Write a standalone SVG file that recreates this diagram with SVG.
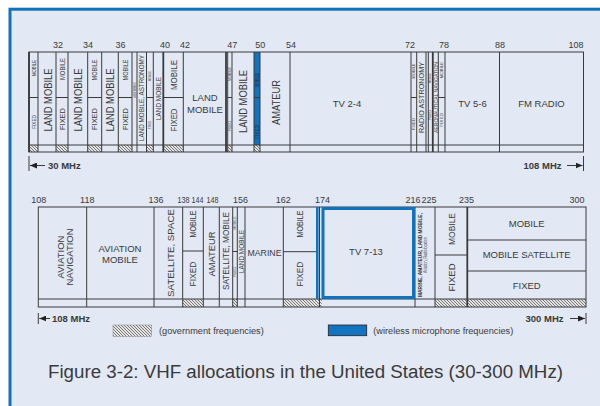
<svg xmlns="http://www.w3.org/2000/svg" width="600" height="406" viewBox="0 0 600 406">
<defs>
<style>
.ln{stroke:#3a3a3a;stroke-width:1;fill:none}
.tk{stroke:#3a3a3a;stroke-width:1.8;fill:none}
.t{font-family:"Liberation Sans",Arial,Helvetica,sans-serif;fill:#3a3a3a}
.v{text-anchor:middle;dominant-baseline:central}
.c{text-anchor:middle}
.n{font-size:9px;text-anchor:middle}
.b{font-weight:bold;font-size:9.5px}
.h{fill:url(#hatch)}
.blue{fill:#1172BE}
</style>
<pattern id="hatch" width="3" height="3" patternUnits="userSpaceOnUse">
<rect width="3" height="3" fill="#e6e6e6"/>
<path d="M-1,-1 L4,4 M-1,2 L1,4 M2,-1 L4,1" stroke="#444" stroke-width="0.7"/>
</pattern>
<marker id="arr" markerUnits="userSpaceOnUse" markerWidth="7" markerHeight="6" refX="7" refY="3" orient="auto">
<path d="M0,0 L7,3 L0,6 z" fill="#222"/>
</marker>
</defs>
<rect width="600" height="406" fill="#fff"/>
<rect x="10" y="9.2" width="620" height="430" fill="#E2E8F4" stroke="#1172BA" stroke-width="3"/>

<!-- TOP BAND 30-108 MHz -->
<g id="band-top">
<g id="top-hatch">
<rect class="h" x="29" y="145" width="9" height="7"/>
<rect class="h" x="56" y="145" width="12" height="7"/>
<rect class="h" x="87.7" y="145" width="14" height="7"/>
<rect class="h" x="118.3" y="145" width="13.7" height="7"/>
<rect class="h" x="146.5" y="145" width="6.8" height="7"/>
<rect class="h" x="163.3" y="145" width="20" height="7"/>
<rect class="h" x="227.7" y="145" width="4.3" height="7"/>
<rect class="h" x="254" y="145" width="6" height="7"/>
</g>
<rect class="blue" x="254" y="52" width="6" height="93"/>
<g id="top-lines">
<rect class="ln" x="29" y="52" width="554.5" height="100"/>
<line class="ln" x1="29" y1="145" x2="583.5" y2="145"/>
<path class="ln" d="M38,52V152 M56,52V152 M68,52V152 M87.7,52V152 M101.7,52V152 M118.3,52V152 M132,52V152 M137,52V152 M146.5,52V152 M153.3,52V152 M183.3,52V152 M227.7,52V152 M232,52V152 M254,52V152 M260,52V152 M290,52V152 M411,52V152 M416.7,52V152 M426,52V152 M428.3,52V152 M438.3,52V152 M445,52V152 M499.5,52V152"/>
<path class="tk" d="M29,52V152 M163.3,52V152 M226,52V152 M432.8,52V152"/>
<path class="ln" d="M29,97.5H38 M56,97.5H68 M87.7,97.5H101.7 M118.3,97.5H132 M146.5,97.5H153.3 M163.3,97.5H183.3 M227.7,97.5H232 M254,97.5H260 M411,97.5H416.7 M438.3,97.5H445"/>
</g>
<g id="top-freq" class="t">
<text class="n" x="58" y="48">32</text>
<text class="n" x="88" y="48">34</text>
<text class="n" x="120.5" y="48">36</text>
<text class="n" x="165" y="48">40</text>
<text class="n" x="185" y="48">42</text>
<text class="n" x="232.3" y="48">47</text>
<text class="n" x="260.3" y="48">50</text>
<text class="n" x="291" y="48">54</text>
<text class="n" x="410" y="48">72</text>
<text class="n" x="444" y="48">78</text>
<text class="n" x="500" y="48">88</text>
<text class="n" x="576" y="48">108</text>
</g>
<g id="top-labels" class="t">
<text class="v" transform="translate(33.5 68) rotate(-90)" font-size="5.5" textLength="16" lengthAdjust="spacingAndGlyphs">MOBILE</text>
<text class="v" transform="translate(33.5 122) rotate(-90)" font-size="5.5" textLength="14" lengthAdjust="spacingAndGlyphs">FIXED</text>
<text class="v" transform="translate(47.5 100) rotate(-90)" font-size="10.5" textLength="63" lengthAdjust="spacingAndGlyphs">LAND MOBILE</text>
<text class="v" transform="translate(62 69) rotate(-90)" font-size="7.5" textLength="22" lengthAdjust="spacingAndGlyphs">MOBILE</text>
<text class="v" transform="translate(62 119) rotate(-90)" font-size="7.5" textLength="22" lengthAdjust="spacingAndGlyphs">FIXED</text>
<text class="v" transform="translate(77.5 100) rotate(-90)" font-size="10.5" textLength="63" lengthAdjust="spacingAndGlyphs">LAND MOBILE</text>
<text class="v" transform="translate(94.7 70) rotate(-90)" font-size="7.5" textLength="21" lengthAdjust="spacingAndGlyphs">MOBILE</text>
<text class="v" transform="translate(94.7 119) rotate(-90)" font-size="7.5" textLength="22" lengthAdjust="spacingAndGlyphs">FIXED</text>
<text class="v" transform="translate(110 100) rotate(-90)" font-size="10.5" textLength="63" lengthAdjust="spacingAndGlyphs">LAND MOBILE</text>
<text class="v" transform="translate(125.2 70) rotate(-90)" font-size="7.5" textLength="21" lengthAdjust="spacingAndGlyphs">MOBILE</text>
<text class="v" transform="translate(125.2 119) rotate(-90)" font-size="7.5" textLength="22" lengthAdjust="spacingAndGlyphs">FIXED</text>
<text class="v" transform="translate(134.5 90) rotate(-90)" font-size="3.5" textLength="16" lengthAdjust="spacingAndGlyphs">LAND MOBILE</text>
<text class="v" transform="translate(141.8 98) rotate(-90)" font-size="6.5" textLength="86" lengthAdjust="spacingAndGlyphs">LAND MOBILE, ASTRONOMY</text>
<text class="v" transform="translate(150 76) rotate(-90)" font-size="3.5" textLength="10" lengthAdjust="spacingAndGlyphs">MOBILE</text>
<text class="v" transform="translate(150 125) rotate(-90)" font-size="3.5" textLength="8" lengthAdjust="spacingAndGlyphs">FIXED</text>
<text class="v" transform="translate(158.3 98.5) rotate(-90)" font-size="6.8" textLength="43" lengthAdjust="spacingAndGlyphs">LAND MOBILE</text>
<text class="v" transform="translate(173.3 75) rotate(-90)" font-size="9.5" textLength="30" lengthAdjust="spacingAndGlyphs">MOBILE</text>
<text class="v" transform="translate(173.3 120) rotate(-90)" font-size="9.5" textLength="23" lengthAdjust="spacingAndGlyphs">FIXED</text>
<text class="c" x="205" y="100.5" font-size="9.5">LAND</text>
<text class="c" x="205" y="112.5" font-size="9.5">MOBILE</text>
<text class="v" transform="translate(230 74) rotate(-90)" font-size="3.5" textLength="14" lengthAdjust="spacingAndGlyphs">MOBILE</text>
<text class="v" transform="translate(230 126) rotate(-90)" font-size="3.5" textLength="10" lengthAdjust="spacingAndGlyphs">FIXED</text>
<text class="v" transform="translate(243.3 101.5) rotate(-90)" font-size="10.5" textLength="63" lengthAdjust="spacingAndGlyphs">LAND MOBILE</text>
<text class="v" transform="translate(257 80) rotate(-90)" font-size="4.5" textLength="14" lengthAdjust="spacingAndGlyphs" fill="#1a2a40">MOBILE</text>
<text class="v" transform="translate(257 132) rotate(-90)" font-size="4.5" textLength="14" lengthAdjust="spacingAndGlyphs" fill="#1a2a40">FIXED</text>
<text class="v" transform="translate(276 102.5) rotate(-90)" font-size="10" textLength="45" lengthAdjust="spacingAndGlyphs">AMATEUR</text>
<text class="c" x="347" y="106.5" font-size="9.5">TV 2-4</text>
<text class="v" transform="translate(413.8 71) rotate(-90)" font-size="3.5" textLength="15" lengthAdjust="spacingAndGlyphs">MOBILE</text>
<text class="v" transform="translate(413.8 124) rotate(-90)" font-size="3.5" textLength="12" lengthAdjust="spacingAndGlyphs">FIXED</text>
<text class="v" transform="translate(421.4 97.5) rotate(-90)" font-size="7" textLength="71" lengthAdjust="spacingAndGlyphs">RADIO ASTRONOMY</text>
<text class="v" transform="translate(430.3 78) rotate(-90)" font-size="3" textLength="10" lengthAdjust="spacingAndGlyphs">MOBILE</text>
<text class="v" transform="translate(430.3 115) rotate(-90)" font-size="3" textLength="10" lengthAdjust="spacingAndGlyphs">FIXED</text>
<text class="v" transform="translate(435.9 97.5) rotate(-90)" font-size="5" textLength="71" lengthAdjust="spacingAndGlyphs">AERONAUTICAL NAVIGATION</text>
<text class="v" transform="translate(441.7 70) rotate(-90)" font-size="3.5" textLength="16" lengthAdjust="spacingAndGlyphs">MOBILE</text>
<text class="v" transform="translate(441.7 120) rotate(-90)" font-size="3.5" textLength="14" lengthAdjust="spacingAndGlyphs">FIXED</text>
<text class="c" x="472.5" y="106.5" font-size="9.5">TV 5-6</text>
<text class="c" x="541.5" y="106.5" font-size="9.5">FM RADIO</text>
</g>
<g id="top-range" class="t">
<path class="ln" d="M29,156V171 M583.5,156V171"/>
<line class="ln" x1="45" y1="165.5" x2="30" y2="165.5" marker-end="url(#arr)"/>
<text class="b" x="48" y="169">30 MHz</text>
<line class="ln" x1="567" y1="165.5" x2="582.5" y2="165.5" marker-end="url(#arr)"/>
<text class="b" x="561.5" y="169" text-anchor="end">108 MHz</text>
</g>
</g>

<!-- BOTTOM BAND 108-300 MHz -->
<g id="band-bottom">
<g id="bot-hatch">
<rect class="h" x="182.7" y="299" width="20.6" height="8"/>
<rect class="h" x="232.7" y="299" width="4.6" height="8"/>
<rect class="h" x="283.3" y="299" width="38.4" height="8"/>
<rect class="h" x="435" y="299" width="151" height="8"/>
</g>
<g id="bot-lines">
<rect class="ln" x="38.3" y="207" width="547.7" height="100"/>
<line class="ln" x1="38.3" y1="299" x2="586" y2="299"/>
<path class="ln" d="M86.7,207V307 M154,207V307 M182.7,207V307 M203.3,207V307 M219.3,207V307 M232.7,207V307 M237.3,207V307 M245,207V307 M283.3,207V307 M319.5,207V307 M415,207V307 M435,207V307"/>
<path class="tk" d="M467.3,207V307"/>
<path class="ln" d="M182.7,251H203.3 M232.7,251.5H237.3 M283.3,251.7H316 M435,255H467.3 M467.3,240H586 M467.3,271H586"/>
</g>
<rect class="blue" x="316" y="207" width="2.6" height="92"/>
<g id="tv-7-13">
<rect x="323" y="208.5" width="90.5" height="89" fill="none" stroke="#1172BE" stroke-width="3"/>
</g>
<g id="bot-freq" class="t">
<text class="n" x="38.8" y="202.5">108</text>
<text class="n" x="87.3" y="202.5">118</text>
<text class="n" x="156" y="202.5">136</text>
<text class="n" x="183.5" y="202.5" font-size="8.5" textLength="12" lengthAdjust="spacingAndGlyphs">138</text>
<text class="n" x="197.5" y="202.5" font-size="8.5" textLength="12" lengthAdjust="spacingAndGlyphs">144</text>
<text class="n" x="212.5" y="202.5" font-size="8.5" textLength="12" lengthAdjust="spacingAndGlyphs">148</text>
<text class="n" x="240.5" y="202.5">156</text>
<text class="n" x="283.3" y="202.5">162</text>
<text class="n" x="322.5" y="202.5">174</text>
<text class="n" x="413" y="202.5">216</text>
<text class="n" x="429" y="202.5">225</text>
<text class="n" x="466.5" y="202.5">235</text>
<text class="n" x="577" y="202.5">300</text>
</g>
<g id="bot-labels" class="t">
<text class="v" transform="translate(60 257) rotate(-90)" font-size="9.5">AVIATION</text>
<text class="v" transform="translate(69 257) rotate(-90)" font-size="9.5">NAVIGATION</text>
<text class="c" x="120" y="251.7" font-size="9.5">AVIATION</text>
<text class="c" x="120" y="263.3" font-size="9.5">MOBILE</text>
<text class="v" transform="translate(170 253) rotate(-90)" font-size="9.5" textLength="88" lengthAdjust="spacingAndGlyphs">SATELLITE, SPACE</text>
<text class="v" transform="translate(193 224) rotate(-90)" font-size="9" textLength="27" lengthAdjust="spacingAndGlyphs">MOBILE</text>
<text class="v" transform="translate(193 274) rotate(-90)" font-size="9" textLength="25" lengthAdjust="spacingAndGlyphs">FIXED</text>
<text class="v" transform="translate(211.5 254) rotate(-90)" font-size="9" textLength="45" lengthAdjust="spacingAndGlyphs">AMATEUR</text>
<text class="v" transform="translate(226 251) rotate(-90)" font-size="8.5" textLength="78" lengthAdjust="spacingAndGlyphs">SATELLITE, MOBILE</text>
<text class="v" transform="translate(235 223) rotate(-90)" font-size="3.5" textLength="13" lengthAdjust="spacingAndGlyphs">MOBILE</text>
<text class="v" transform="translate(235 272) rotate(-90)" font-size="3.5" textLength="10" lengthAdjust="spacingAndGlyphs">FIXED</text>
<text class="v" transform="translate(241.3 251.5) rotate(-90)" font-size="6.5" textLength="43" lengthAdjust="spacingAndGlyphs">LAND MOBILE</text>
<text class="c" x="264.5" y="256" font-size="9" textLength="34" lengthAdjust="spacingAndGlyphs">MARINE</text>
<text class="v" transform="translate(300 224) rotate(-90)" font-size="9" textLength="27" lengthAdjust="spacingAndGlyphs">MOBILE</text>
<text class="v" transform="translate(300 274) rotate(-90)" font-size="9" textLength="25" lengthAdjust="spacingAndGlyphs">FIXED</text>
<text class="c" x="366" y="255" font-size="9.5">TV 7-13</text>
<text class="v" transform="translate(420.5 255) rotate(-90)" font-size="4.5" font-weight="bold" textLength="84" lengthAdjust="spacingAndGlyphs">MARINE, AMATEUR, LAND MOBILE,</text>
<text class="v" transform="translate(425 255) rotate(-90)" font-size="4.5" textLength="36" lengthAdjust="spacingAndGlyphs">Aviation, Radiolocation</text>
<text class="v" transform="translate(451.2 229) rotate(-90)" font-size="9.5" textLength="32" lengthAdjust="spacingAndGlyphs">MOBILE</text>
<text class="v" transform="translate(451.2 277.5) rotate(-90)" font-size="9.5" textLength="28" lengthAdjust="spacingAndGlyphs">FIXED</text>
<text class="c" x="526.7" y="226.5" font-size="9.5">MOBILE</text>
<text class="c" x="526.7" y="257.7" font-size="9.5">MOBILE SATELLITE</text>
<text class="c" x="526.7" y="289" font-size="9.5">FIXED</text>
</g>
<g id="bot-range" class="t">
<path class="ln" d="M38.3,313V324 M586,313V324"/>
<line class="ln" x1="50" y1="318.5" x2="39.3" y2="318.5" marker-end="url(#arr)"/>
<text class="b" x="52" y="322">108 MHz</text>
<line class="ln" x1="570" y1="318.5" x2="585" y2="318.5" marker-end="url(#arr)"/>
<text class="b" x="563.5" y="322" text-anchor="end">300 MHz</text>
</g>
</g>

<g id="legend" class="t">
<rect class="h" x="113" y="325" width="38.7" height="11.5" stroke="#888" stroke-width="0.5"/>
<text x="159" y="333.5" font-size="9.2">(government frequencies)</text>
<rect x="328.3" y="325" width="38.4" height="10.7" fill="#1273C0" stroke="#222" stroke-width="0.8"/>
<text x="373.3" y="333.5" font-size="9.2">(wireless microphone frequencies)</text>
</g>

<text class="t" x="48" y="378" font-size="18" textLength="515" lengthAdjust="spacingAndGlyphs">Figure 3-2: VHF allocations in the United States (30-300 MHz)</text>
</svg>
